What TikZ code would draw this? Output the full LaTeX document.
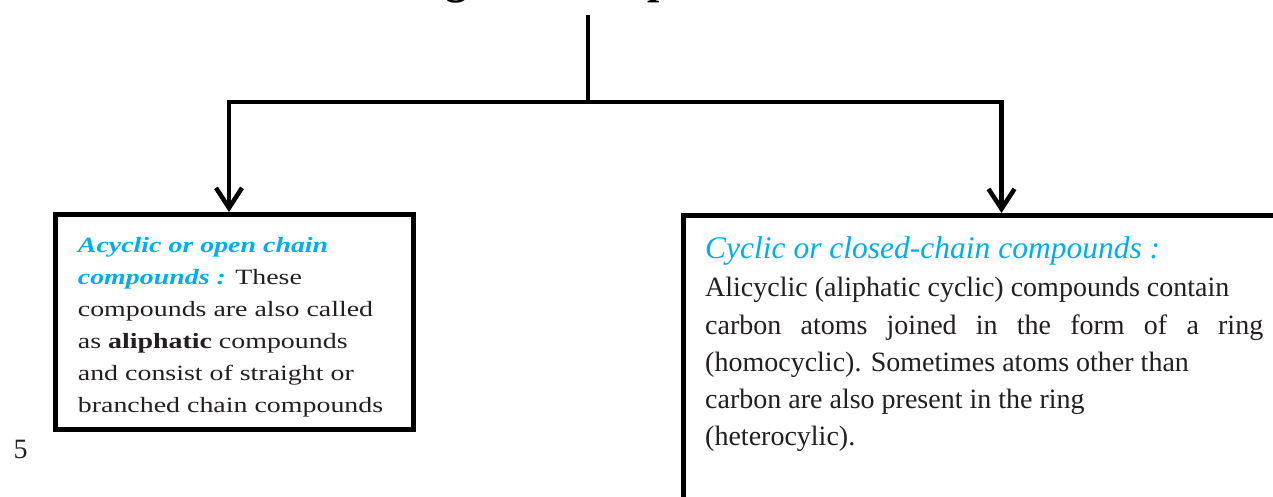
\documentclass[tikz,border=0pt]{standalone}
\usepackage{fontspec}
\setmainfont{Liberation Serif}
\newfontfamily\lfont{Liberation Serif}[FakeStretch=1.28]
\usetikzlibrary{arrows.meta}
\definecolor{hcyan}{RGB}{0,174,239}
\definecolor{ink}{RGB}{35,31,32}
\begin{document}
\begin{tikzpicture}[x=1pt,y=-1pt,
  conn/.style={line width=4.5pt, draw=black},
  arr/.style={conn, -{Straight Barb[length=20pt,width=26pt]}},
  box/.style={draw=black, line width=5pt, rectangle, inner sep=0pt, fill=white},
  ltxt/.style={anchor=base west, inner sep=0pt, text=ink, font=\lfont\fontsize{21.8}{26}\selectfont},
  rtxt/.style={anchor=base west, inner sep=0pt, text=ink, font=\fontsize{28}{34}\selectfont},
  rhead/.style={anchor=base west, inner sep=0pt, text=hcyan, font=\itshape\fontsize{31.5}{36}\selectfont},
  ttl/.style={anchor=base, inner sep=0pt, text=black, font=\bfseries\fontsize{44}{50}\selectfont}
]
\useasboundingbox (0,0) rectangle (1273,497);
\clip (0,0) rectangle (1273,497);

% title (clipped at top)
\node[ttl] (T) at (588,-6) {Organic Compounds};

% boxes
\node[box, minimum width=358pt, minimum height=214.5pt] (A) at (234.5,321.75) {};
\node[box, minimum width=636pt, minimum height=320pt] (C) at (1001.5,375.5) {};

% connectors
\coordinate (top) at (588,15);
\coordinate (split) at (588,102);
\draw[conn] (top) -- (split);
\draw[arr] (split) -| ([xshift=-5.5pt]A.north);
\draw[arr] (split) -| (C.north);

% left box text
\node[ltxt] (L1) at (77.7,252) {\bfseries\itshape\color{hcyan}Acyclic or open chain};
\node[ltxt] (L2) at (77.7,284) {{\bfseries\itshape\color{hcyan}compounds :} These};
\node[ltxt] (L3) at (77.7,316) {compounds are also called};
\node[ltxt] (L4) at (77.7,348) {as \textbf{aliphatic} compounds};
\node[ltxt] (L5) at (77.7,380) {and consist of straight or};
\node[ltxt] (L6) at (77.7,412) {branched chain compounds};

% right box text
\node[rhead] (R0) at (705,258) {Cyclic or closed-chain compounds :};
\node[rtxt] (R1) at (705,296.7) {Alicyclic (aliphatic cyclic) compounds contain};
\node[rtxt] (R2) at (705,334) {\makebox[558pt][s]{carbon atoms joined in the form of a ring}};
\node[rtxt] (R3) at (705,371) {(homocyclic). Sometimes atoms other than};
\node[rtxt] (R4) at (705,408) {carbon are also present in the ring};
\node[rtxt] (R5) at (705,445) {(heterocylic).};

% page number
\node[rtxt] (N5) at (13.5,458) {5};
\end{tikzpicture}
\end{document}
